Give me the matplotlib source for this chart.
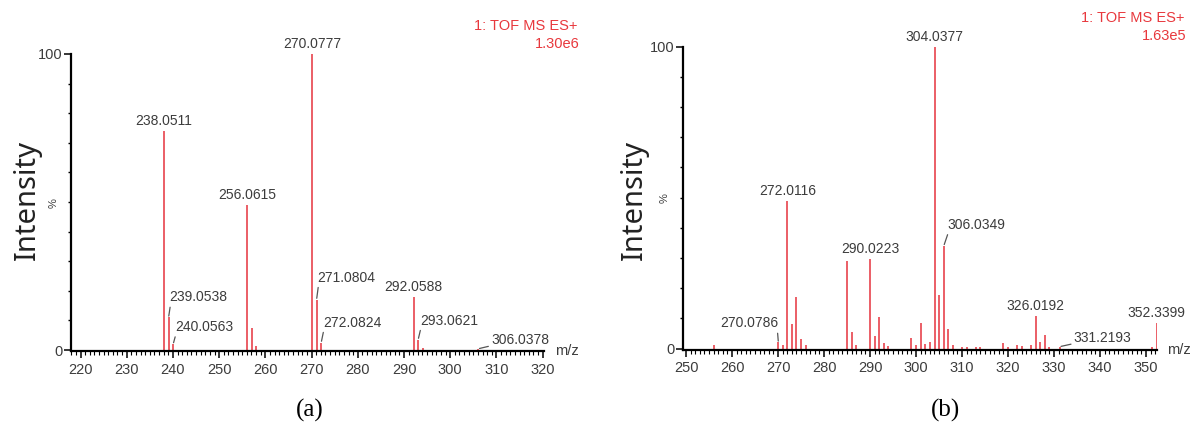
import numpy as np
import matplotlib.pyplot as plt
from matplotlib.ticker import MultipleLocator, FixedLocator

# panel (a) spectrum, relative intensity in %
mz_a = [238.0511, 239.0538, 240.0563, 256.0615, 257.06, 258.06, 270.0777,
        271.0804, 272.0824, 292.0588, 293.0621, 294.06, 306.0378]
int_a = [74, 11, 2, 49, 7.5, 1.2, 100, 17, 2.5, 18, 3.5, 0.8, 0.4]
labels_a = ["238.0511", "239.0538", "240.0563", "256.0615", "270.0777", "271.0804",
            "272.0824", "292.0588", "293.0621", "306.0378"]
scale_a = "1.30e6"

# panel (b) spectrum
mz_b = [256.0, 270.0786, 271.0, 272.0116, 273.0, 274.0, 275.0, 276.0, 285.0, 286.0,
        287.0, 290.0223, 291.0, 292.0, 293.0, 294.0, 299.0, 300.0, 301.0, 302.0,
        303.0, 304.0377, 305.0, 306.0349, 307.0, 308.0, 310.0, 311.0, 313.0, 314.0,
        319.0, 320.0, 322.0, 323.0, 325.0, 326.0192, 327.0, 328.0, 329.0, 331.2193,
        351.3, 352.3399]
int_b = [1, 2, 1, 49, 8, 17, 3, 1, 29, 5.5,
         1, 29.5, 4, 10.5, 1.8, 0.8, 3.5, 1, 8.3, 1.5,
         2.2, 100, 17.7, 34, 6.6, 1.2, 0.6, 0.5, 0.6, 0.5,
         1.8, 0.6, 1.2, 0.9, 1, 10.7, 2, 4.4, 0.6, 0.6,
         0.5, 8.5]
labels_b = ["270.0786", "272.0116", "290.0223", "304.0377", "306.0349", "326.0192",
            "331.2193", "352.3399"]
scale_b = "1.63e5"

# label offsets (pixels from peak top) for the ones with leader lines
lead_a = {"239.0538": (30, 20), "240.0563": (31, 17), "271.0804": (30, 22),
          "272.0824": (31, 20), "293.0621": (31, 19), "306.0378": (42, 9)}
lead_b = {"270.0786": (-29, 19), "306.0349": (33, 21), "331.2193": (43, 9)}

peak_col = '#e9525b'
txt_col = '#3c3c3c'
red_txt = '#e8383d'
lab_font = 'Liberation Sans'

fig = plt.figure(figsize=(11.92, 4.3), dpi=100)
ax_a = fig.add_axes([0.0594, 0.1826, 0.397, 0.6919])
ax_b = fig.add_axes([0.573, 0.186, 0.3977, 0.7053])


def draw(ax, mz, inten, labels, lead, xlim, xmaj, scale, pct_x, mz_x, hx, caption, cap_x):
    ax.vlines(mz, 0, inten, color=peak_col, lw=1.3)
    ax.set_xlim(*xlim)
    ax.set_ylim(-0.5, 100)
    for s in ['top', 'right']:
        ax.spines[s].set_visible(False)
    for s in ['left', 'bottom']:
        ax.spines[s].set_linewidth(1.6)
    ax.xaxis.set_major_locator(FixedLocator(xmaj))
    ax.xaxis.set_minor_locator(MultipleLocator(1))
    ax.yaxis.set_major_locator(FixedLocator([0, 100]))
    ax.yaxis.set_minor_locator(MultipleLocator(10))
    ax.tick_params(axis='x', which='major', length=5, width=1.1, pad=3,
                   labelsize=10.5, labelcolor=txt_col)
    ax.tick_params(axis='x', which='minor', length=3, width=0.8)
    ax.tick_params(axis='y', which='major', length=5, width=1.1, pad=1,
                   labelsize=10.5, labelcolor=txt_col)
    ax.tick_params(axis='y', which='minor', length=2.5, width=1)
    for t in ax.get_xticklabels() + ax.get_yticklabels():
        t.set_fontfamily(lab_font)

    for lab in labels:
        i = min(range(len(mz)), key=lambda j: abs(mz[j] - float(lab)))
        x, y = mz[i], inten[i]
        if lab in lead:
            dx, dy = lead[lab]
            rp = (0.02, 0.1) if dx > 0 else (0.98, 0.1)
            ax.annotate(lab, (x, y), xytext=(dx, dy), textcoords='offset pixels',
                        ha='center', va='center', fontsize=10, color=txt_col,
                        family=lab_font,
                        arrowprops=dict(arrowstyle='-', color='#555555', lw=0.9,
                                        shrinkA=0, shrinkB=1, relpos=rp))
        else:
            ax.annotate(lab, (x, y), xytext=(0, 10), textcoords='offset pixels',
                        ha='center', va='center', fontsize=10, color=txt_col,
                        family=lab_font)

    ax.text(pct_x, 0.5, '%', transform=ax.transAxes, rotation=90, fontsize=8,
            ha='center', va='center', color=txt_col, family=lab_font)
    ax.text(mz_x, 0.0, 'm/z', transform=ax.transAxes, fontsize=10.5,
            ha='center', va='center', color=txt_col, family=lab_font)
    ax.text(hx, 1.095, '1: TOF MS ES+', transform=ax.transAxes, fontsize=10.5,
            ha='right', va='center', color=red_txt, family=lab_font)
    ax.text(hx + 0.005, 1.035, scale, transform=ax.transAxes, fontsize=10.5,
            ha='right', va='center', color=red_txt, family=lab_font)
    fig.text(cap_x, 1 - 410 / 430, caption, ha='center', va='center',
             fontsize=18, family='Liberation Serif')


draw(ax_a, mz_a, int_a, labels_a, lead_a, (217.9, 320.3), np.arange(220, 321, 10),
     scale_a, -0.036, 1.049, 1.07, '(a)', 310 / 1192)
draw(ax_b, mz_b, int_b, labels_b, lead_b, (249.35, 352.4), np.arange(250, 351, 10),
     scale_b, -0.038, 1.046, 1.058, '(b)', 945 / 1192)

fig.text(27 / 1192, 1 - 200 / 430, 'Intensity', rotation=90, ha='center', va='center',
         fontsize=21, family='Noto Sans', color='#222222')
fig.text(634 / 1192, 1 - 200 / 430, 'Intensity', rotation=90, ha='center', va='center',
         fontsize=21, family='Noto Sans', color='#222222')

fig.savefig('out.png', dpi=100)
